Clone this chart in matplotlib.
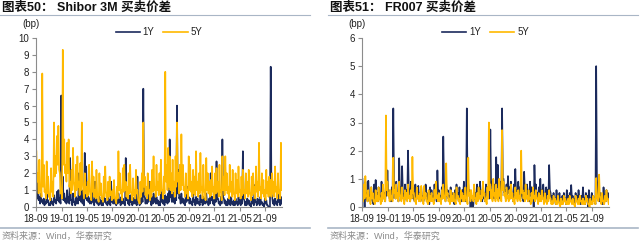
import matplotlib
matplotlib.use("Agg")
import matplotlib.pyplot as plt
import matplotlib.dates as mdates
import pandas as pd

plt.rcParams['font.family'] = ['Liberation Sans', 'Noto Sans CJK SC']

start_date = "2018-09-03"

# Left chart: Shibor 3M bid-ask spread (bp)
# weekly readings (start of week) and mid-week troughs
shibor_1y = [1.2, 1.5, 0.6, 0.8, 0.4, 0.5, 0.3, 0.9, 0.4, 0.2,
             0.5, 0.3, 0.7, 0.4, 0.9, 1.0, 0.5, 6.6, 1.8, 0.8,
             0.5, 1.0, 0.6, 2.9, 0.4, 0.8, 0.3, 0.6, 0.5, 2.0,
             0.7, 1.0, 0.4, 3.2, 2.4, 0.8, 0.5, 0.6, 0.9, 0.4,
             1.5, 0.5, 0.3, 0.6, 0.4, 0.3, 0.8, 0.5, 0.2, 0.6,
             0.4, 1.5, 0.5, 0.7, 0.3, 0.5, 0.8, 0.4, 0.6, 0.5,
             0.3, 2.9, 0.6, 0.4, 0.7, 0.3, 0.5, 0.6, 0.4, 1.8,
             0.3, 0.5, 0.8, 7.0, 0.6, 0.5, 0.7, 1.5, 0.4, 0.6,
             0.8, 0.5, 0.6, 0.4, 0.3, 0.9, 0.5, 0.4, 0.7, 0.6,
             0.8, 4.0, 0.7, 0.9, 0.5, 1.0, 6.0, 2.2, 0.6, 0.8,
             0.5, 0.4, 0.7, 1.2, 0.6, 0.5, 0.3, 0.8, 0.4, 0.6,
             0.5, 0.3, 0.7, 0.4, 0.6, 0.5, 0.8, 0.3, 0.5, 2.0,
             0.6, 0.4, 0.7, 2.7, 0.5, 0.3, 0.6, 4.0, 0.5, 0.4,
             0.3, 0.5, 0.4, 0.6, 0.3, 0.4, 0.5, 0.3, 0.6, 0.4,
             0.5, 3.3, 0.4, 0.3, 0.5, 0.4, 0.2, 0.6, 0.4, 1.3,
             0.3, 0.5, 0.4, 0.6, 0.3, 0.2, 0.5, 0.4, 0.1, -0.1,
             8.3, 0.6, 0.4, 0.5, 0.3, 0.8, 0.4, 0.6]
shibor_1y_mid = [0.5, 0.4, 0.2, 0.3, 0.2, 0.1, 0.2, 0.3, 0.1, 0.1,
                 0.2, 0.1, 0.3, 0.2, 0.4, 0.3, 0.2, 0.5, 0.4, 0.3,
                 0.2, 0.3, 0.2, 0.4, 0.1, 0.3, 0.1, 0.2, 0.2, 0.4,
                 0.3, 0.2, 0.1, 0.5, 0.4, 0.3, 0.2, 0.2, 0.3, 0.1,
                 0.3, 0.2, 0.1, 0.2, 0.1, 0.1, 0.3, 0.2, 0.1, 0.2,
                 0.1, 0.3, 0.2, 0.2, 0.1, 0.2, 0.3, 0.1, 0.2, 0.2,
                 0.1, 0.4, 0.2, 0.1, 0.3, 0.1, 0.2, 0.2, 0.1, 0.3,
                 0.1, 0.2, 0.3, 0.6, 0.2, 0.2, 0.3, 0.4, 0.1, 0.2,
                 0.3, 0.2, 0.2, 0.1, 0.1, 0.3, 0.2, 0.1, 0.3, 0.2,
                 0.3, 0.6, 0.3, 0.3, 0.2, 0.4, 0.8, 0.5, 0.2, 0.3,
                 0.2, 0.1, 0.3, 0.4, 0.2, 0.2, 0.1, 0.3, 0.1, 0.2,
                 0.2, 0.1, 0.3, 0.1, 0.2, 0.2, 0.3, 0.1, 0.2, 0.4,
                 0.2, 0.1, 0.3, 0.5, 0.2, 0.1, 0.2, 0.6, 0.2, 0.1,
                 0.1, 0.2, 0.1, 0.2, 0.1, 0.1, 0.2, 0.1, 0.2, 0.1,
                 0.2, 0.5, 0.1, 0.1, 0.2, 0.1, 0.0, 0.2, 0.1, 0.3,
                 0.1, 0.2, 0.1, 0.2, 0.1, 0.0, 0.2, 0.1, 0.0, -0.1,
                 0.8, 0.2, 0.1, 0.2, 0.1, 0.3, 0.1, 0.2]
shibor_5y = [3.3, 2.0, 2.8, 1.2, 7.9, 2.5, 1.0, 2.7, 1.8, 0.6,
             2.3, 1.5, 5.0, 3.0, 4.2, 4.8, 2.0, 1.0, 9.3, 4.0,
             2.5, 3.8, 4.0, 1.5, 2.2, 3.5, 1.2, 2.5, 3.0, 1.5,
             2.6, 5.0, 1.0, 2.0, 1.2, 1.5, 2.5, 0.8, 2.7, 1.8,
             1.0, 2.2, 0.6, 2.0, 1.4, 0.5, 1.8, 2.4, 0.8, 1.5,
             1.8, 0.9, 1.0, 1.6, 0.4, 1.2, 3.3, 2.0, 1.0, 2.3,
             2.5, 1.5, 1.2, 2.0, 2.5, 0.8, 1.7, 1.0, 2.2, 1.0,
             0.3, 1.5, 2.0, 5.0, 1.8, 1.2, 2.0, 1.0, 1.5, 2.2,
             3.0, 1.2, 2.5, 1.5, 2.0, 2.8, 1.0, 1.8, 8.0, 2.5,
             3.5, 3.0, 2.0, 2.8, 1.5, 3.0, 5.0, 2.0, 2.5, 4.3,
             2.5, 1.2, 2.0, 1.0, 3.0, 2.5, 1.5, 2.2, 1.8, 3.3,
             1.5, 2.0, 3.2, 1.2, 2.5, 1.0, 2.9, 2.0, 1.5, 1.6,
             2.4, 1.2, 2.0, 2.3, 1.5, 2.5, 1.0, 3.0, 1.8, 3.0,
             2.0, 1.2, 2.5, 1.5, 2.2, 0.8, 2.0, 1.6, 2.4, 1.0,
             1.8, 2.2, 1.0, 2.0, 1.5, 2.2, 0.8, 1.8, 2.0, 1.2,
             2.4, 1.5, 3.8, 1.2, 2.0, 1.6, 1.0, 2.2, 1.5, 1.8,
             1.6, 2.0, 1.5, 2.4, 1.2, 2.0, 1.0, 3.8]
shibor_5y_mid = [1.5, 0.8, 1.0, 0.6, 1.2, 0.9, 0.5, 0.8, 0.6, 0.4,
                 0.9, 0.6, 1.8, 2.0, 2.5, 2.2, 0.8, 0.5, 2.5, 2.0,
                 1.5, 2.0, 1.2, 0.8, 1.0, 1.5, 0.6, 1.0, 1.2, 0.7,
                 1.0, 1.5, 0.5, 0.8, 0.6, 0.7, 1.0, 0.4, 0.9, 0.6,
                 0.5, 0.8, 0.3, 0.7, 0.5, 0.3, 0.6, 0.9, 0.4, 0.6,
                 0.7, 0.4, 0.5, 0.6, 0.2, 0.5, 1.0, 0.8, 0.4, 0.9,
                 1.0, 0.6, 0.5, 0.8, 0.9, 0.4, 0.7, 0.5, 0.8, 0.4,
                 0.2, 0.6, 0.9, 1.2, 0.7, 0.5, 0.8, 0.4, 0.6, 0.9,
                 1.0, 0.6, 1.0, 0.7, 0.8, 1.0, 0.5, 0.8, 1.5, 1.0,
                 1.2, 1.0, 0.8, 1.0, 0.6, 1.2, 1.5, 0.8, 1.0, 1.3,
                 1.0, 0.6, 0.8, 0.5, 1.0, 0.9, 0.6, 0.8, 0.7, 1.0,
                 0.6, 0.8, 1.0, 0.5, 0.9, 0.4, 1.0, 0.8, 0.6, 0.7,
                 0.9, 0.5, 0.8, 0.9, 0.6, 0.9, 0.4, 1.0, 0.7, 1.0,
                 0.8, 0.5, 0.9, 0.6, 0.8, 0.4, 0.8, 0.6, 0.9, 0.5,
                 0.7, 0.8, 0.5, 0.8, 0.6, 0.8, 0.4, 0.7, 0.8, 0.5,
                 0.9, 0.6, 1.0, 0.5, 0.8, 0.6, 0.4, 0.8, 0.6, 0.7,
                 0.6, 0.8, 0.6, 0.9, 0.5, 0.8, 0.5, 1.0]

# Right chart: FR007 bid-ask spread (bp)
fr007_1y = [1.0, 0.6, 0.9, 0.5, 0.93, 0.4, 0.7, 0.3, 0.8, 0.96,
            0.5, 0.7, 0.4, 0.9, 0.6, 0.5, 0.8, 1.3, 0.6, 0.5,
            0.7, 3.5, 0.6, 0.9, 0.5, 1.73, 0.7, 1.45, 0.4, 0.8,
            0.6, 2.0, 0.5, 0.9, 0.7, 0.4, 0.8, 0.6, 0.75, 0.5,
            0.7, 0.4, 0.6, 0.8, 0.5, 0.3, 0.7, 0.6, 0.4, 0.8,
            0.5, 1.3, 0.6, 0.4, 0.7, 2.5, 0.5, 0.8, 0.6, 0.4,
            0.7, 0.5, 0.3, 0.6, 0.8, 0.5, 0.7, 0.4, 0.6, 0.9,
            0.5, 3.5, 0.8, 0.6, 0.4, -0.1, 0.7, 0.5, 0.8, 0.6,
            0.9, 0.5, 0.7, 0.4, 0.8, 0.6, 0.7, 2.75, 0.9, 0.6,
            0.8, 1.77, 1.5, 0.7, 0.9, 3.5, 1.0, 0.6, 0.8, 1.1,
            0.7, 0.9, 0.5, 0.8, 1.35, 0.6, 0.9, 0.7, 0.8, 0.5,
            1.25, 0.6, 0.8, 0.5, 0.9, 0.7, 0.6, 1.49, 0.8, 0.5,
            0.7, 1.0, 0.6, 0.8, 0.5, 0.7, 0.6, 1.49, 0.5, 0.4,
            0.5, 0.3, 0.6, 0.4, 0.5, 0.3, 0.4, 0.5, 0.3, 0.6,
            0.4, 0.5, 0.78, 0.4, 0.3, 0.5, 0.4, 0.6, 0.3, 0.4,
            0.7, 0.3, 0.5, 0.4, 0.6, 0.3, 0.5, 0.4, 0.2, 5.0,
            0.6, 0.4, 0.5, 0.3, 0.7, 0.4, 0.6, 0.5]
fr007_1y_mid = [0.4, -0.1, 0.3, 0.2, 0.4, 0.2, 0.3, 0.1, 0.3, 0.4,
                0.2, 0.3, 0.2, 0.4, 0.3, 0.2, 0.4, 0.5, 0.3, 0.2,
                0.3, 0.8, 0.3, 0.4, 0.2, 0.6, 0.3, 0.5, 0.2, 0.3,
                0.3, 0.7, 0.2, 0.4, 0.3, 0.2, 0.3, 0.3, 0.3, 0.2,
                0.3, 0.2, 0.3, 0.4, 0.2, 0.1, 0.3, 0.3, 0.2, 0.4,
                0.2, 0.5, 0.3, 0.2, 0.3, 0.8, 0.2, 0.4, 0.3, 0.2,
                0.3, 0.2, 0.1, 0.3, 0.4, 0.2, 0.3, 0.2, 0.3, 0.4,
                0.2, 0.9, 0.4, -0.2, 0.2, 0.1, 0.3, 0.2, 0.4, 0.3,
                0.4, 0.2, 0.3, 0.2, 0.4, 0.3, 0.3, 0.8, 0.4, 0.3,
                0.4, 0.7, 0.6, 0.3, 0.4, 1.0, 0.5, 0.3, 0.4, 0.5,
                0.3, 0.4, 0.2, 0.4, 0.5, 0.3, 0.4, 0.3, 0.4, 0.2,
                0.5, 0.3, 0.4, 0.2, 0.4, 0.3, -0.2, 0.6, 0.4, 0.2,
                0.3, 0.4, 0.3, 0.4, 0.2, 0.3, 0.3, 0.6, 0.2, 0.2,
                0.2, 0.1, 0.3, 0.2, 0.2, 0.1, 0.2, 0.2, 0.1, 0.3,
                0.2, 0.2, 0.3, 0.2, 0.1, 0.2, 0.2, 0.3, 0.1, 0.2,
                0.3, 0.1, 0.2, -0.1, 0.3, 0.1, 0.2, 0.2, 0.1, 1.0,
                0.3, 0.2, 0.2, 0.1, 0.3, 0.2, 0.3, 0.2]
fr007_5y = [0.5, 0.8, 1.1, 0.4, 0.6, 0.3, 0.7, 0.5, 0.2, 0.6,
            0.4, 0.7, 0.3, 0.5, 0.8, 0.4, 3.25, 0.9, 0.5, 0.6,
            0.4, 1.75, 0.6, 0.8, 0.5, 0.9, 0.4, 0.7, 0.3, 0.6,
            0.5, 0.8, 0.4, 0.6, 1.78, 0.5, 0.3, 0.7, 0.4, 0.5,
            0.75, 0.3, 0.75, 0.5, 0.2, 0.6, 0.4, 0.5, 0.3, 0.6,
            0.9, 0.4, 0.5, 0.3, 0.6, 0.8, 0.4, 1.55, 0.5, 0.3,
            0.6, 0.4, 0.5, 0.2, 0.7, 0.4, 0.3, 0.6, 0.5, 0.4,
            0.7, 0.3, 1.75, 0.5, 0.6, 0.4, 0.8, 0.3, 0.5, 0.7,
            0.4, 0.6, 0.9, 0.5, 0.3, 0.7, 3.0, 0.8, 0.6, 1.0,
            0.5, 0.8, 0.6, 1.0, 0.4, 2.73, 0.9, 0.5, 0.7, 0.4,
            0.6, 0.8, 0.5, 0.3, 0.7, 0.5, 0.6, 0.4, 2.0, 0.6,
            0.5, 0.8, 0.4, 0.6, 0.3, 0.5, 0.7, 0.4, 0.6, 0.3,
            0.5, 0.4, 0.6, 0.3, 0.5, 0.2, 0.4, 0.6, 0.3, 0.2,
            0.4, 0.3, 0.2, 0.4, 0.1, 0.3, 0.2, 0.4, 0.3, 0.2,
            0.3, 0.4, 0.2, 0.3, 0.1, 0.4, 0.2, 0.3, 0.4, 0.2,
            0.3, 0.2, 0.4, 0.3, 0.1, 0.3, 0.2, 0.4, 0.3, 1.03,
            0.4, 1.15, 0.3, 0.5, 0.2, 0.4, 0.6, 0.3]
fr007_5y_mid = [0.2, 0.3, 0.4, 0.2, 0.3, 0.1, 0.3, 0.2, 0.1, 0.2,
                0.2, 0.3, 0.1, 0.2, 0.3, 0.2, 0.6, 0.4, 0.2, 0.3,
                0.2, 0.5, 0.3, 0.3, 0.2, 0.4, 0.2, 0.3, 0.1, 0.3,
                0.2, 0.3, 0.2, 0.3, 0.5, 0.2, 0.1, 0.3, 0.2, 0.2,
                0.3, 0.1, 0.3, 0.2, 0.1, 0.2, 0.2, 0.2, 0.1, 0.3,
                0.3, 0.2, 0.2, 0.1, 0.3, 0.3, 0.2, 0.4, 0.2, 0.1,
                0.2, 0.2, 0.2, 0.1, 0.3, 0.2, 0.1, 0.3, 0.2, 0.2,
                0.3, 0.1, 0.4, 0.2, 0.3, 0.2, 0.3, 0.1, 0.2, 0.3,
                0.2, 0.3, 0.4, 0.2, 0.1, 0.3, 0.6, 0.3, 0.2, 0.4,
                0.2, 0.3, 0.2, 0.4, 0.2, 0.6, 0.4, 0.2, 0.3, 0.2,
                0.3, 0.3, 0.2, 0.1, 0.3, 0.2, 0.3, 0.2, 0.5, 0.3,
                0.2, 0.3, 0.2, 0.3, 0.1, 0.2, 0.3, 0.2, 0.3, 0.1,
                0.2, 0.2, 0.3, 0.1, 0.2, 0.1, 0.2, 0.3, 0.1, 0.1,
                0.2, 0.1, 0.1, 0.2, 0.0, 0.1, 0.1, 0.2, 0.1, 0.1,
                0.1, 0.2, 0.1, 0.1, 0.0, 0.2, 0.1, 0.1, 0.2, 0.1,
                0.1, 0.1, 0.2, 0.1, 0.0, 0.1, 0.1, 0.2, 0.1, 0.3,
                0.2, 0.4, 0.1, 0.2, 0.1, 0.2, 0.3, 0.1]

series_labels = ["1Y", "5Y"]
titles = ["图表50： Shibor 3M 买卖价差", "图表51： FR007 买卖价差"]
source_text = "资料来源：Wind，华泰研究"
ylims = [10, 6]

C1 = "#1B2A5C"
C5 = "#FFB900"
AX = "#8C8C8C"
RULE = "#A9B6C6"


def build_series(week_vals, mid_vals):
    d0 = pd.date_range(start_date, periods=len(week_vals), freq="7D")
    d1 = d0 + pd.Timedelta(hours=84)
    s = pd.concat([pd.Series(week_vals, index=d0),
                   pd.Series(mid_vals, index=d1)]).sort_index()
    return s


fig = plt.figure(figsize=(6.4, 2.41), dpi=100)
W, H = 640, 241


def px_rect(x0, y0, x1, y1):
    return [x0 / W, 1 - y1 / H, (x1 - x0) / W, (y1 - y0) / H]


panels = [
    (px_rect(36, 38, 282, 207), (shibor_1y, shibor_1y_mid),
     (shibor_5y, shibor_5y_mid), 0),
    (px_rect(362, 38, 609, 207), (fr007_1y, fr007_1y_mid),
     (fr007_5y, fr007_5y_mid), 1),
]
xstart = pd.Timestamp("2018-09-01")
xend = pd.Timestamp("2021-11-20")

for rect, p1, p5, k in panels:
    ax = fig.add_axes(rect)
    s1 = build_series(*p1)
    s5 = build_series(*p5)
    ax.plot(s1.index, s1.values, color=C1, lw=1.2, label=series_labels[0])
    ax.plot(s5.index, s5.values, color=C5, lw=1.2, label=series_labels[1])
    ax.set_xlim(xstart, xend)
    ax.set_ylim(0, ylims[k])
    ax.set_yticks(range(0, ylims[k] + 1))
    ticks = pd.date_range("2018-09-01", "2021-09-01", freq="4MS")
    ax.set_xticks(ticks)
    ax.xaxis.set_major_formatter(mdates.DateFormatter("%y-%m"))
    for sp in ["top", "right"]:
        ax.spines[sp].set_visible(False)
    for sp in ["left", "bottom"]:
        ax.spines[sp].set_color(AX)
        ax.spines[sp].set_linewidth(0.8)
    ax.tick_params(axis="both", colors=AX, labelcolor="#222222", labelsize=7,
                   length=3, width=0.8, pad=2)
    ax.text(-0.02, 1.08, "(bp)", transform=ax.transAxes, fontsize=7,
            color="#222222", ha="center", va="center")
    leg = ax.legend(loc="center", bbox_to_anchor=(0.5, 1.035), ncol=2,
                    frameon=False, fontsize=7, handlelength=2.5,
                    handletextpad=0.3, columnspacing=0.9)
    for line in leg.get_lines():
        line.set_linewidth(1.2)
    for t in leg.get_texts():
        t.set_color("#222222")

    # header / footer
    x0 = 2 if k == 0 else 330
    lx0 = 0 if k == 0 else 328
    lx1 = 310 if k == 0 else 638
    fig.text(x0 / W, 1 - 8 / H, titles[k], fontsize=9, fontweight="bold",
             color="#111111", ha="left", va="center")
    fig.add_artist(plt.Line2D([lx0 / W, lx1 / W], [1 - 15 / H, 1 - 15 / H],
                              color=RULE, lw=0.8, transform=fig.transFigure))
    fig.add_artist(plt.Line2D([lx0 / W, lx1 / W], [1 - 228 / H, 1 - 228 / H],
                              color=RULE, lw=1.2, transform=fig.transFigure))
    fig.text(x0 / W, 1 - 236 / H, source_text, fontsize=6.5,
             color="#8A8A8A", ha="left", va="center")

fig.savefig("out.png", dpi=100)
